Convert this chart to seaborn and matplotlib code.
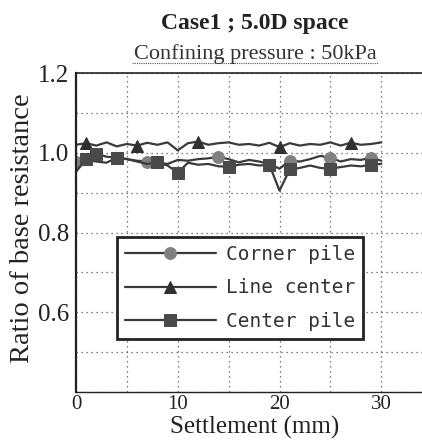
import numpy as np
import pandas as pd
import seaborn as sns
import matplotlib.pyplot as plt
from matplotlib.ticker import MultipleLocator

settlement = list(range(0, 31))
corner_pile = [0.978, 0.982, 0.978, 0.975, 0.988, 0.984, 0.980, 0.978, 0.975, 0.972,
               0.982, 0.980, 0.984, 0.986, 0.990, 0.984, 0.976, 0.982, 0.978, 0.972,
               0.960, 0.980, 0.978, 0.984, 0.992, 0.988, 0.978, 0.984, 0.982, 0.988, 0.980]
line_center = [1.020, 1.024, 1.018, 1.026, 1.016, 1.022, 1.018, 1.025, 1.020, 1.026,
               1.006, 1.024, 1.028, 1.020, 1.024, 1.026, 1.020, 1.022, 1.018, 1.025,
               1.014, 1.024, 1.018, 1.022, 1.020, 1.026, 1.018, 1.025, 1.020, 1.022, 1.026]
center_pile = [0.952, 0.985, 0.998, 0.990, 0.988, 0.984, 0.978, 0.972, 0.976, 0.968,
               0.950, 0.975, 0.970, 0.972, 0.966, 0.965, 0.970, 0.972, 0.968, 0.970,
               0.905, 0.958, 0.962, 0.968, 0.962, 0.960, 0.964, 0.968, 0.966, 0.970, 0.972]
series_names = ["Corner pile", "Line center", "Center pile"]

df = pd.DataFrame({
    "x": settlement * 3,
    "y": corner_pile + line_center + center_pile,
    "series": [n for n in series_names for _ in settlement],
})

sns.set_style("white")
plt.rcParams["font.family"] = ["Liberation Serif", "DejaVu Serif"]

fig = plt.figure(figsize=(4.22, 4.46), dpi=100)
ax = fig.add_axes([76 / 422, (446 - 392) / 446, 346 / 422, 319 / 446])

styles = {
    "Corner pile": ("o", "#808080", [0, 4, 7, 14, 21, 25, 29]),
    "Line center": ("^", "#303030", [1, 6, 12, 20, 27]),
    "Center pile": ("s", "#4a4a4a", [1, 2, 4, 8, 10, 15, 19, 21, 25, 29]),
}
for name in series_names:
    marker, mcol, mev = styles[name]
    sub = df[df["series"] == name]
    sns.lineplot(data=sub, x="x", y="y", ax=ax, color="#3a3a3a", lw=1.6,
                 marker=marker, markersize=8.5, markerfacecolor=mcol, markeredgecolor=mcol,
                 markevery=mev, label=name)

ax.set_xlim(0, 34)
ax.set_ylim(0.4, 1.2)
ax.set_xticks([0, 10, 20, 30])
ax.set_yticks([0.6, 0.8, 1.0, 1.2])
ax.xaxis.set_minor_locator(MultipleLocator(5))
ax.yaxis.set_minor_locator(MultipleLocator(0.1))
ax.grid(which="both", color="#555555", linestyle=(0, (1, 3)), linewidth=0.9)
ax.tick_params(axis="both", which="both", direction="in", length=3, colors="#222222")
ax.tick_params(axis="y", which="major", pad=5, labelsize=18)
ax.tick_params(axis="x", which="major", pad=2.5, labelsize=15)
ax.spines["right"].set_visible(False)
for s in ["left", "top", "bottom"]:
    ax.spines[s].set_color("#222222")
ax.spines["left"].set_linewidth(1.6)
ax.spines["bottom"].set_linewidth(1.0)
ax.spines["top"].set_linewidth(1.2)

ax.set_xlabel("Settlement (mm)", fontsize=18, color="#222222")
ax.xaxis.set_label_coords((255 - 76) / 346, -(416 - 392) / 319)
ax.set_ylabel("Ratio of base resistance", fontsize=20.5, color="#222222")
ax.yaxis.set_label_coords(-(76 - 35) / 346, (392 - 228) / 319)

fig.text(255 / 422, 1 - 29 / 446, "Case1 ; 5.0D space", ha="center", va="baseline",
         fontsize=17, fontweight="bold", color="#222222")
fig.text(255 / 422, 1 - 59 / 446, "Confining pressure : 50kPa", ha="center", va="baseline",
         fontsize=16, color="#333333")
fig.add_artist(plt.Line2D([132 / 422, 378 / 422], [1 - 63 / 446, 1 - 63 / 446],
                          color="#555555", lw=0.8, linestyle=(0, (1, 1))))

leg = ax.legend(loc="upper left", bbox_to_anchor=((117 - 76) / 346, (392 - 237) / 319),
                prop={"family": "DejaVu Sans Mono", "size": 14}, frameon=True, fancybox=False,
                handlelength=4.7, borderpad=0.4, labelspacing=0.75, handletextpad=0.5,
                borderaxespad=0, framealpha=1)
leg.get_frame().set_edgecolor("#222222")
leg.get_frame().set_linewidth(2.0)
for txt in leg.get_texts():
    txt.set_color("#333333")

fig.savefig("out.png", dpi=100)
